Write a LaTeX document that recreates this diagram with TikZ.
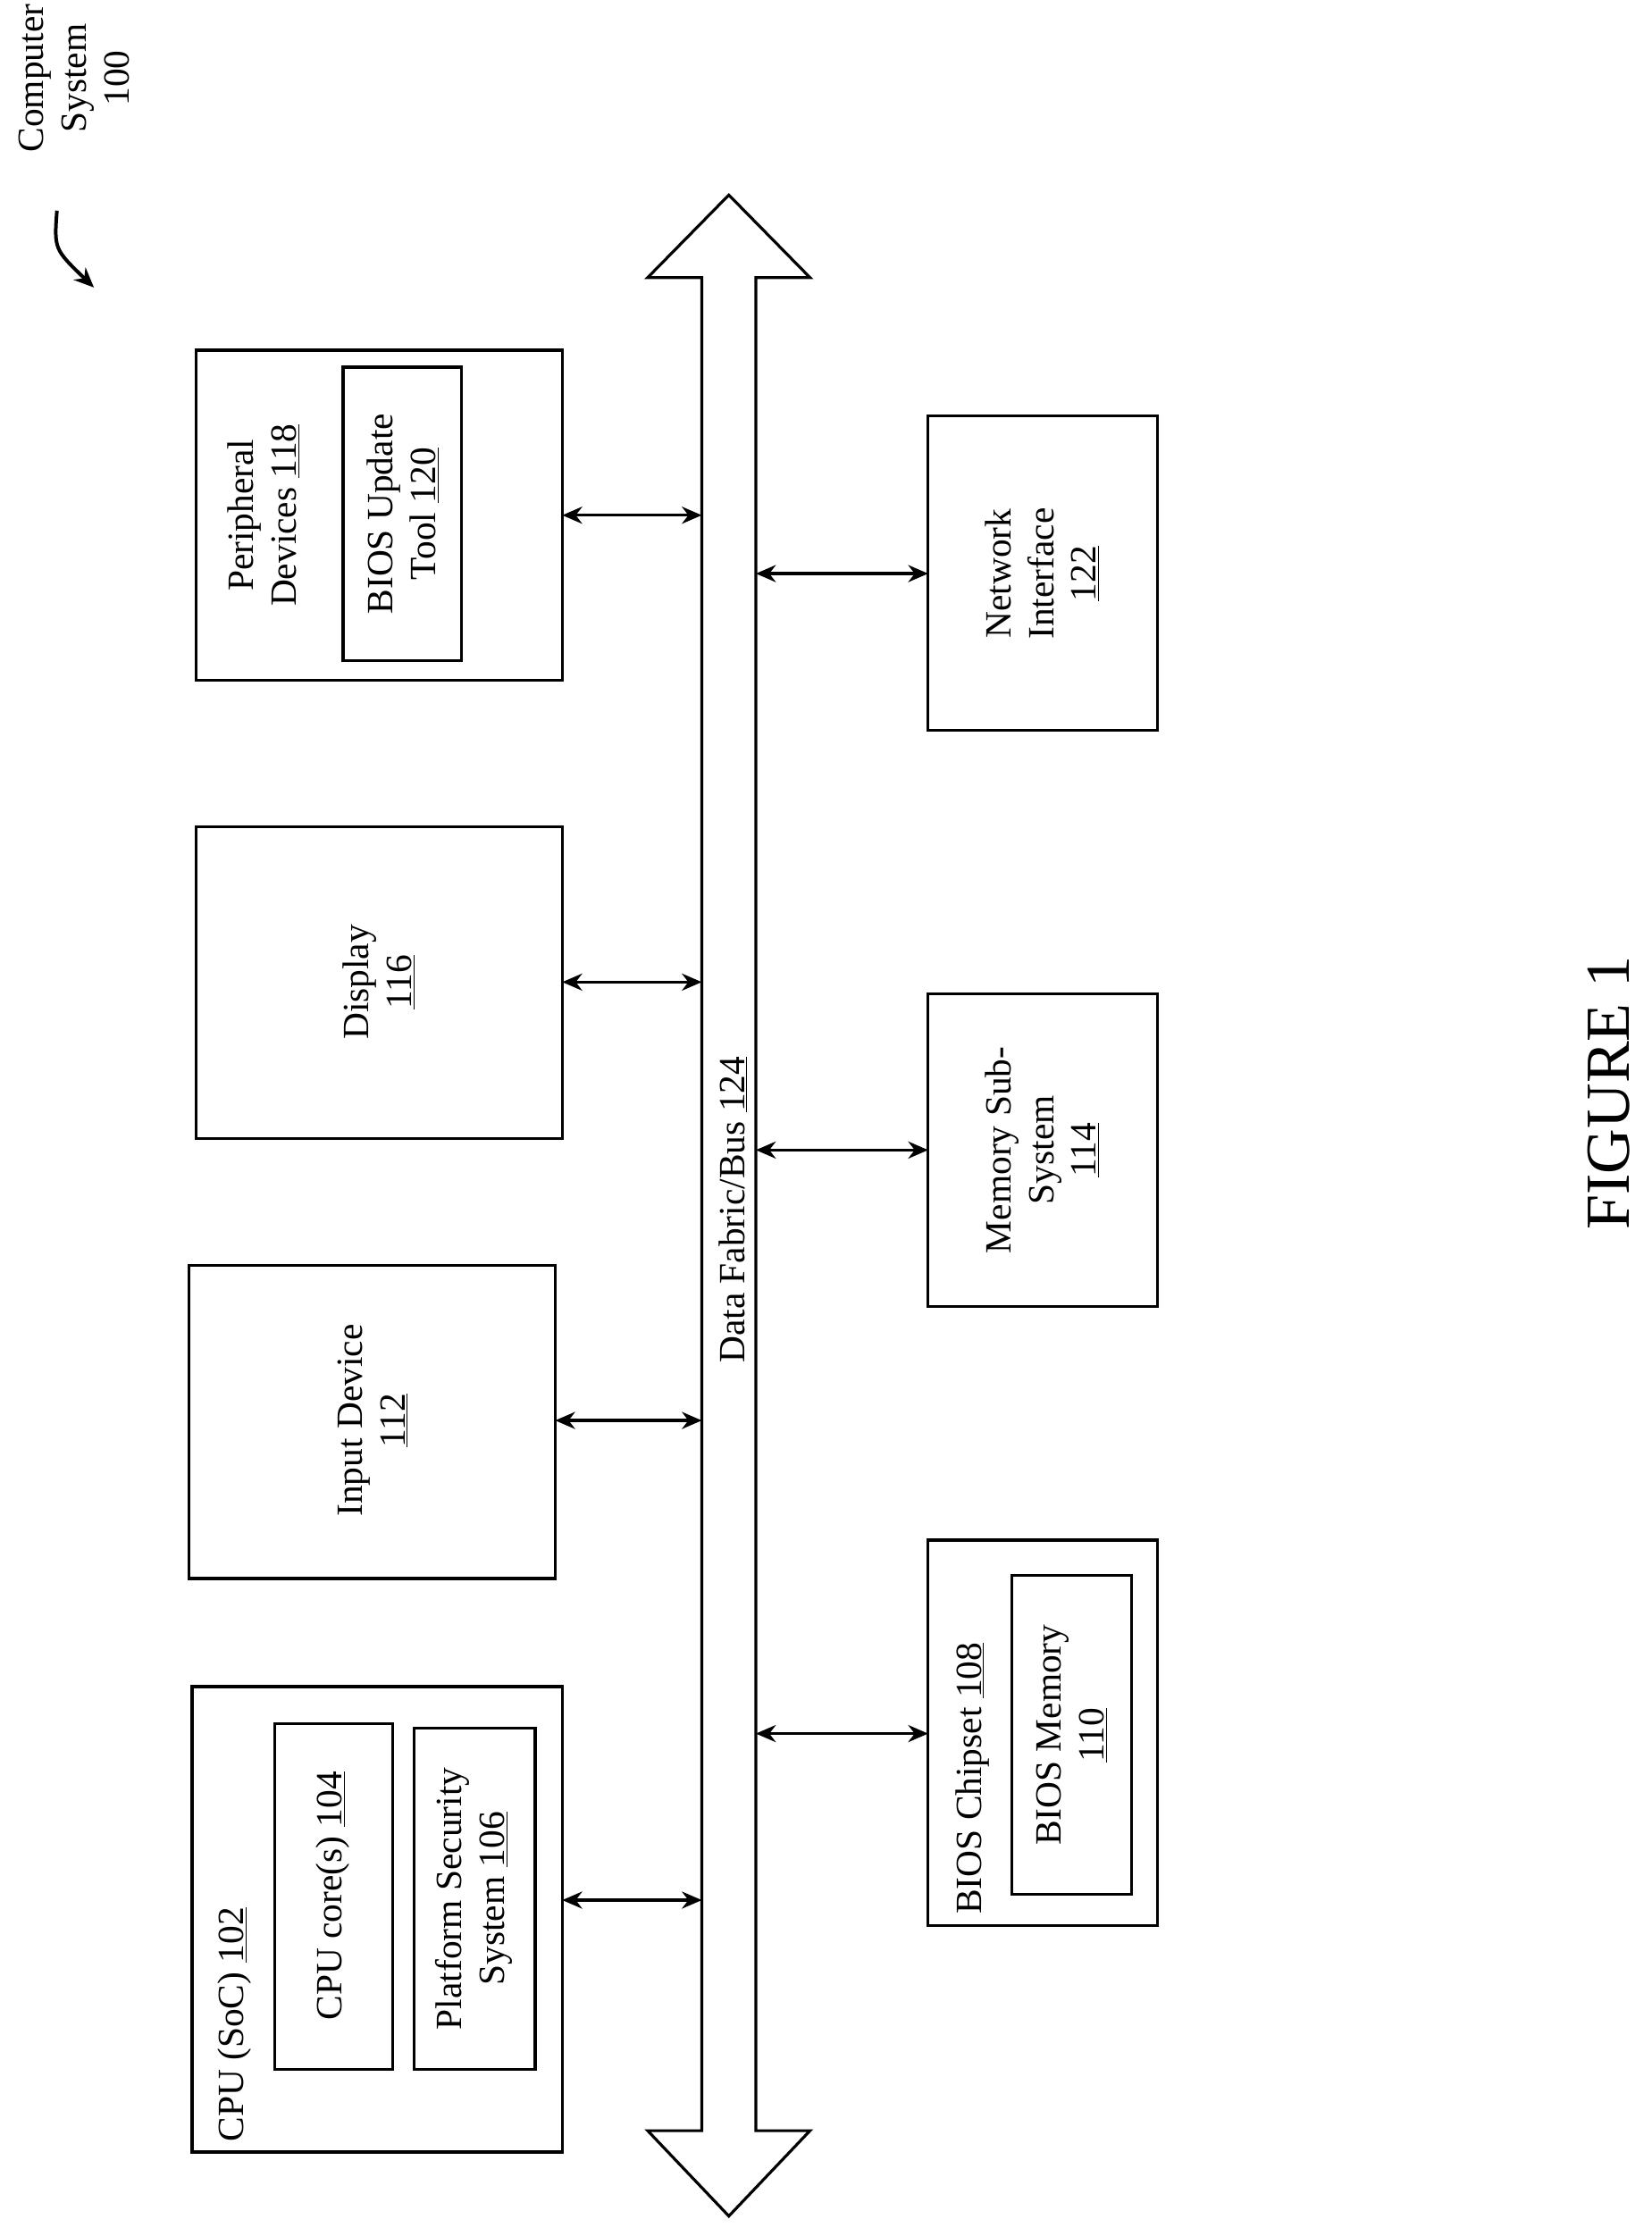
\documentclass[tikz,border=0pt]{standalone}
\usepackage{fontspec}
\setmainfont{Liberation Serif}
\usetikzlibrary{arrows.meta}
\begin{document}
\begin{tikzpicture}[x=1pt,y=-1pt,
  box/.style={draw,line width=2pt},
  lbl/.style={rotate=90,align=center,font=\fontsize{26}{30}\selectfont,inner sep=0pt},
  conn/.style={line width=2pt,<->,>={Stealth[length=14pt,width=12pt]}}]
\useasboundingbox (0,0) rectangle (1160,1571);
% bus
\draw[line width=2pt] (493,1497) -- (493,195) -- (455,195) -- (512,137) -- (569,195) -- (531,195) -- (531,1497) -- (569,1497) -- (512,1557) -- (455,1497) -- cycle;
\node[lbl] (buslbl) at (515,850) {Data Fabric/Bus \underline{124}};
% left boxes
\draw[box] (138,246) rectangle (395,478);
\draw[box] (241,258) rectangle (324,464);
\node[lbl] (p118) at (185,362) {Peripheral\\Devices \underline{118}};
\node[lbl] (t120) at (283,361) {BIOS Update\\Tool \underline{120}};
\draw[box] (138,581) rectangle (395,800);
\node[lbl] (d116) at (266,690) {Display\\\underline{116}};
\draw[box] (133,889) rectangle (390,1109);
\node[lbl] (i112) at (262,998) {Input Device\\\underline{112}};
\draw[box] (135,1185) rectangle (395,1512);
\node[lbl,anchor=west] (c102) at (165,1505) {CPU (SoC) \underline{102}};
\draw[box] (193,1211) rectangle (276,1454);
\node[lbl] (c104) at (234,1332) {CPU core(s) \underline{104}};
\draw[box] (291,1214) rectangle (376,1454);
\node[lbl] (c106) at (333,1334) {Platform Security\\System \underline{106}};
% right boxes
\draw[box] (652,292) rectangle (813,513);
\node[lbl] (n122) at (732,403) {Network\\Interface\\\underline{122}};
\draw[box] (652,698) rectangle (813,918);
\node[lbl] (m114) at (732,808) {Memory Sub-\\System\\\underline{114}};
\draw[box] (652,1082) rectangle (813,1353);
\node[lbl,anchor=west] (b108) at (683,1345) {BIOS Chipset \underline{108}};
\draw[box] (711,1107) rectangle (795,1331);
\node[lbl] (b110) at (753,1219) {BIOS Memory\\\underline{110}};
% connectors
\coordinate (a1) at (395,362); \coordinate (b1) at (493,362);
\coordinate (a2) at (395,690); \coordinate (b2) at (493,690);
\coordinate (a3) at (390,998); \coordinate (b3) at (493,998);
\coordinate (a4) at (395,1335); \coordinate (b4) at (493,1335);
\coordinate (a5) at (531,403); \coordinate (b5) at (652,403);
\coordinate (a6) at (531,808); \coordinate (b6) at (652,808);
\coordinate (a7) at (531,1218); \coordinate (b7) at (652,1218);
\foreach \i in {1,...,7} \draw[conn] (a\i) -- (b\i);
% title
\node[lbl] (cs) at (52,55) {Computer\\System\\100};
\coordinate (cs1) at (40,148); \coordinate (cs2) at (66,202);
\draw[line width=2.5pt,-{Stealth[length=14pt,width=12pt]}] (cs1) .. controls (38,175) .. (cs2);
\node[rotate=90,font=\fontsize{44}{50}\selectfont] (fig) at (1130,768) {FIGURE 1};
\end{tikzpicture}
\end{document}
